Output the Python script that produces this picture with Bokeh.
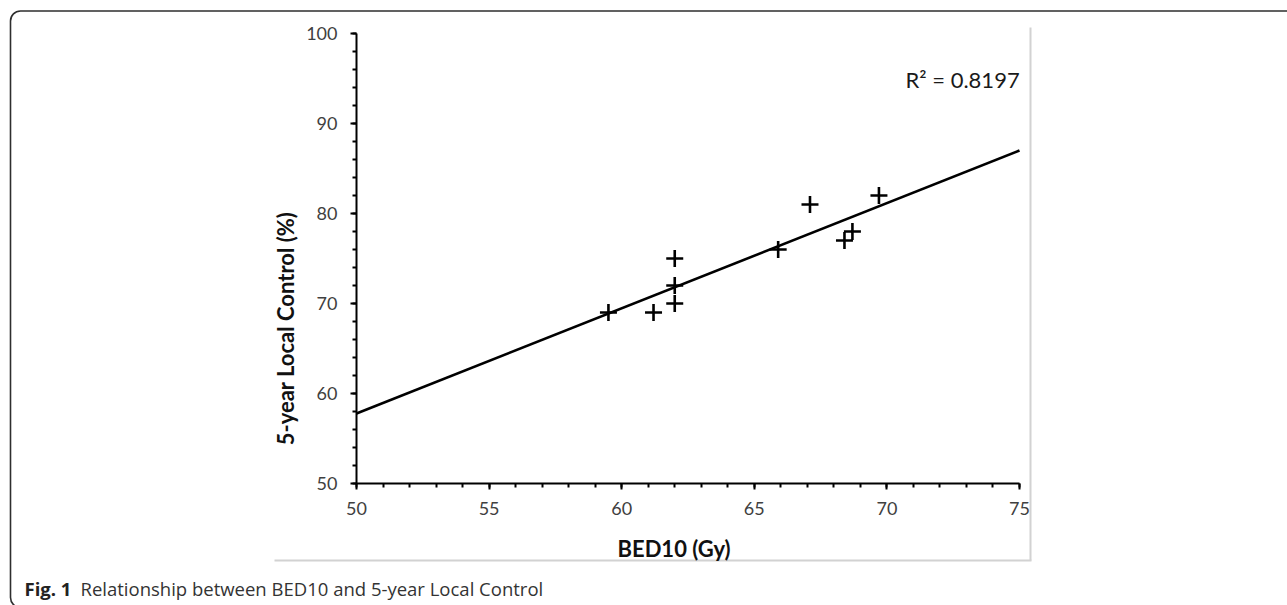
import numpy as np
from bokeh.plotting import figure
from bokeh.models import Range1d, SingleIntervalTicker, Label, BoxAnnotation
from bokeh.embed import file_html
from bokeh.resources import INLINE

# ---- data ----
bed10 = [59.5, 61.2, 62.0, 62.0, 62.0, 65.9, 67.1, 68.4, 68.7, 69.7]
local_control = [69, 69, 70, 72, 75, 76, 81, 77, 78, 82]
x_limits = [50, 75]
y_limits = [50, 100]
x_tick_step = 5
y_tick_step = 10
r2_text = "R² = 0.8197"
x_title = "BED10 (Gy)"
y_title = "5-year Local Control (%)"
caption_bold = "Fig. 1"
caption_text = "Relationship between BED10 and 5-year Local Control"

# ---- layout (page pixels) ----
W, H = 1287, 605
AX_LEFT, AX_RIGHT = 356, 1019      # pixel of x_limits
AX_TOP, AX_BOTTOM = 33, 483        # pixel of y_limits
PXX = (AX_RIGHT - AX_LEFT) / (x_limits[1] - x_limits[0])
PXY = (AX_BOTTOM - AX_TOP) / (y_limits[1] - y_limits[0])
x_start = x_limits[0] - AX_LEFT / PXX
x_end = x_start + W / PXX
y_end = y_limits[0] + AX_BOTTOM / PXY
y_start = y_end - H / PXY


def dx(px):  # page pixel -> data x
    return x_start + px / PXX


def dy(py):  # page pixel -> data y
    return y_end - py / PXY


p = figure(width=W, height=H, x_range=Range1d(x_start, x_end), y_range=Range1d(y_start, y_end),
           output_backend="svg", toolbar_location=None, title=None,
           min_border=0, min_border_left=0, min_border_right=0,
           min_border_top=0, min_border_bottom=0)
p.outline_line_color = None
p.xgrid.visible = False
p.ygrid.visible = False
p.background_fill_color = "white"
p.border_fill_color = "white"

p.xaxis.ticker = SingleIntervalTicker(interval=x_tick_step, num_minor_ticks=5)
p.yaxis.ticker = SingleIntervalTicker(interval=y_tick_step, num_minor_ticks=5)
p.xaxis.bounds = tuple(x_limits)
p.yaxis.bounds = tuple(y_limits)
p.xaxis.fixed_location = y_limits[0]
p.yaxis.fixed_location = x_limits[0]
for ax in (p.xaxis, p.yaxis):
    ax.axis_line_color = "black"
    ax.axis_line_width = 2
    ax.major_tick_line_color = "black"
    ax.major_tick_line_width = 2
    ax.major_tick_in = 0
    ax.major_tick_out = 6
    ax.minor_tick_line_color = "black"
    ax.minor_tick_line_width = 2
    ax.minor_tick_in = 0
    ax.minor_tick_out = 4
    ax.major_label_text_font = "Lato"
    ax.major_label_text_font_size = "18px"
    ax.major_label_text_color = "#404040"
p.xaxis.major_label_standoff = 12
p.yaxis.major_label_standoff = 13

# chart-area border (right and bottom light grey edges)
p.segment(x0=[dx(1030), dx(274)], y0=[dy(27), dy(560)],
          x1=[dx(1030), dx(1031)], y1=[dy(560), dy(560)],
          line_color="#d2d2d2", line_width=2)

# outer rounded frame
p.add_layout(BoxAnnotation(left=dx(10), right=dx(1400), top=dy(10.5), bottom=dy(607),
                           fill_color=None, fill_alpha=0, line_color="#2e2e2e", line_alpha=1.0,
                           line_width=1.6, border_radius=10))

# trend line (least squares)
slope, intercept = np.polyfit(bed10, local_control, 1)
line_x = list(x_limits)
line_y = [intercept + slope * v for v in line_x]
p.line(line_x, line_y, line_color="black", line_width=2.6)

p.scatter(bed10, local_control, marker="cross", size=17, line_color="black", line_width=2.6)

p.add_layout(Label(x=dx(905), y=dy(79), text=r2_text, text_align="left", text_baseline="middle",
                   text_font="Lato", text_font_size="22px", text_color="#1a1a1a"))
p.add_layout(Label(x=dx(285), y=dy(328), text=y_title, angle=np.pi / 2, text_align="center",
                   text_baseline="middle", text_font="Lato", text_font_style="bold",
                   text_font_size="22px", text_color="#111111"))
p.add_layout(Label(x=dx(617), y=dy(548), text=x_title, text_align="left", text_baseline="middle",
                   text_font="Lato", text_font_style="bold", text_font_size="22px",
                   text_color="#111111"))
p.add_layout(Label(x=dx(24), y=dy(588), text=caption_bold, text_align="left",
                   text_baseline="alphabetic", text_font="Open Sans", text_font_style="bold",
                   text_font_size="18.5px", text_color="#222222"))
p.add_layout(Label(x=dx(80), y=dy(588), text=caption_text, text_align="left",
                   text_baseline="alphabetic", text_font="Open Sans", text_font_size="18.5px",
                   text_color="#333333"))

open("out.html", "w").write(file_html(p, INLINE))
